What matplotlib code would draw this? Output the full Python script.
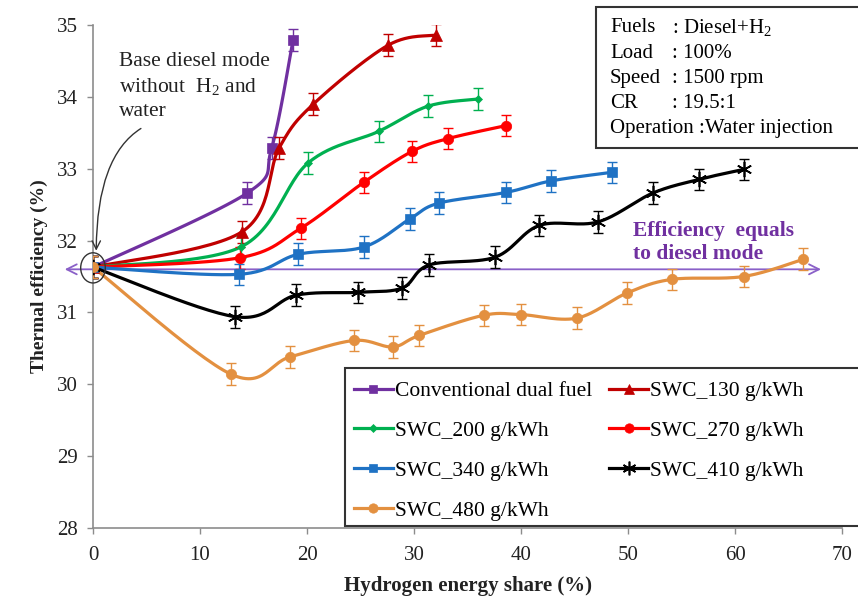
import numpy as np
import matplotlib
matplotlib.use("Agg")
import matplotlib.pyplot as plt
from matplotlib.lines import Line2D
from matplotlib.patches import Rectangle, Ellipse

plt.rcParams['font.family'] = ['Liberation Serif', 'DejaVu Serif']
plt.rcParams['mathtext.fontset'] = 'custom'
plt.rcParams['mathtext.rm'] = 'Liberation Serif'

# ---------------- data ----------------
labels = ["Conventional dual fuel", "SWC_130 g/kWh", "SWC_200 g/kWh", "SWC_270 g/kWh",
          "SWC_340 g/kWh", "SWC_410 g/kWh", "SWC_480 g/kWh"]

x_conv = [0, 14.4, 16.7, 18.7]
y_conv = [31.63, 32.66, 33.29, 34.79]

x_130 = [0, 13.9, 17.4, 20.6, 27.6, 32.1]
y_130 = [31.63, 32.12, 33.29, 33.90, 34.72, 34.86]

x_200 = [0, 13.8, 20.1, 26.7, 31.3, 36.0]
y_200 = [31.63, 31.91, 33.08, 33.52, 33.87, 33.97]

x_270 = [0, 13.7, 19.4, 25.3, 29.8, 33.2, 38.6]
y_270 = [31.63, 31.76, 32.17, 32.81, 33.24, 33.42, 33.60]

x_340 = [0, 13.6, 19.2, 25.3, 29.6, 32.3, 38.6, 42.8, 48.5]
y_340 = [31.63, 31.53, 31.81, 31.91, 32.30, 32.52, 32.67, 32.83, 32.95]

x_410 = [0, 13.3, 19.0, 24.8, 28.9, 31.4, 37.6, 41.7, 47.2, 52.3, 56.6, 60.8]
y_410 = [31.63, 30.94, 31.24, 31.28, 31.34, 31.66, 31.77, 32.21, 32.26, 32.66, 32.85, 32.99]

x_480 = [0, 12.9, 18.4, 24.4, 28.0, 30.5, 36.5, 40.0, 45.2, 49.9, 54.1, 60.8, 66.4]
y_480 = [31.63, 30.14, 30.38, 30.61, 30.52, 30.68, 30.96, 30.97, 30.92, 31.27, 31.46, 31.50, 31.74]

err = 0.15
base_eff = 31.6

xticks = [0, 10, 20, 30, 40, 50, 60, 70]
yticks = [28, 29, 30, 31, 32, 33, 34, 35]

info_keys = ["Fuels", "Load", "Speed", "CR"]
info_vals = [": Diesel+H$_2$", ": 100%", ": 1500 rpm", ": 19.5:1"]
info_last = "Operation :Water injection"

# ---------------- styles ----------------
colors = ['#7030A0', '#C00000', '#00B050', '#FF0000', '#1F72C4', '#000000', '#E39040']
markers = ['s', '^', 'D', 'o', 's', (6, 2, 0), 'o']
msizes = [7, 8, 4.5, 7.5, 7, 11, 7.5]
series = [(x_conv, y_conv), (x_130, y_130), (x_200, y_200), (x_270, y_270),
          (x_340, y_340), (x_410, y_410), (x_480, y_480)]

W, H = 858, 599
fx = lambda px: px / W
fy = lambda py: 1 - py / H

fig = plt.figure(figsize=(W / 100, H / 100), dpi=100)
ax = fig.add_axes([fx(93), fy(528), (842 - 93) / W, (528 - 25) / H])
ax.set_xlim(0, 70)
ax.set_ylim(28, 35)


def smooth(xs, ys, n=30):
    # Catmull-Rom style smoothing in display space (like spreadsheet smoothed lines)
    pts = ax.transData.transform(np.column_stack([xs, ys]))
    m = len(pts)
    out = [pts[0]]
    for i in range(m - 1):
        p0 = pts[i - 1] if i > 0 else pts[i]
        p1 = pts[i]
        p2 = pts[i + 1]
        p3 = pts[i + 2] if i + 2 < m else pts[i + 1]
        c1 = p1 + (p2 - p0) / 6.0
        c2 = p2 - (p3 - p1) / 6.0
        t = np.linspace(0, 1, n)[1:, None]
        seg = ((1 - t) ** 3) * p1 + 3 * ((1 - t) ** 2) * t * c1 + 3 * (1 - t) * t ** 2 * c2 + t ** 3 * p2
        out.extend(seg)
    out = np.array(out)
    d = ax.transData.inverted().transform(out)
    return d[:, 0], d[:, 1]


handles = []
for (xs, ys), c, mk, ms, lab in zip(series, colors, markers, msizes, labels):
    sx, sy = smooth(xs, ys)
    ax.plot(sx, sy, color=c, lw=2.3, zorder=3, solid_capstyle='round')
    ax.errorbar(xs, ys, yerr=err, fmt='none', ecolor=c, elinewidth=1.0, capsize=3.5, capthick=1.0, zorder=3)
    mew = 1.2 if mk == (6, 2, 0) else 0.5
    ax.plot(xs, ys, linestyle='none', marker=mk, ms=ms, color=c, mec=c, mew=mew, zorder=4)
    handles.append(Line2D([], [], color=c, lw=2.3, marker=mk, ms=ms * 0.9, mec=c, mew=mew))

# base efficiency double arrow
ax.annotate('', xy=(68.3, base_eff), xytext=(-2.9, base_eff),
            arrowprops=dict(arrowstyle='<->', color='#8A60C8', lw=1.3, mutation_scale=18),
            annotation_clip=False, zorder=2)
ax.text(50.5, 32.14, "Efficiency  equals", color='#7030A0', fontsize=15.5, fontweight='bold',
        va='center', ha='left')
ax.text(50.5, 31.82, "to diesel mode", color='#7030A0', fontsize=15.5, fontweight='bold',
        va='center', ha='left')

# circle around base point and curved arrow
ax.add_patch(Ellipse((0, 31.62), 2.3, 0.42, fill=False, ec='#333333', lw=1.0, clip_on=False, zorder=5))
ax.annotate('', xy=(0.3, 31.82), xytext=(4.7, 33.58),
            arrowprops=dict(arrowstyle='->', color='#333333', lw=1.0, mutation_scale=15,
                            connectionstyle='angle3,angleA=30,angleB=90'),
            annotation_clip=False, zorder=5)
fig.text(fx(119), fy(62), "Base diesel mode", fontsize=15.5, va='center', ha='left', color='#222222')
fig.text(fx(119), fy(87), "without  H$_2$ and", fontsize=15.5, va='center', ha='left', color='#222222')
fig.text(fx(119), fy(112), "water", fontsize=15.5, va='center', ha='left', color='#222222')

# axes styling
for s in ['top', 'right']:
    ax.spines[s].set_visible(False)
for s in ['left', 'bottom']:
    ax.spines[s].set_color('#8C8C8C')
    ax.spines[s].set_linewidth(1.2)
ax.set_xticks(xticks)
ax.set_yticks(yticks)
ax.tick_params(axis='both', direction='out', length=4, width=1, color='#8C8C8C',
               labelsize=15, labelcolor='#222222')
ax.tick_params(axis='x', pad=9)
ax.tick_params(axis='y', pad=7)
ax.set_xlabel("Hydrogen energy share (%)", fontsize=15, fontweight='bold', color='#222222', labelpad=8)
ax.set_ylabel("Thermal efficiency (%)", fontsize=14, fontweight='bold', color='#222222', labelpad=6)

# info box
fig.patches.append(Rectangle((fx(596), fy(148)), fx(870) - fx(596), fy(7) - fy(148),
                             transform=fig.transFigure, fill=True, fc='white', ec='#333333', lw=1.5, zorder=6))
for i, (k, v) in enumerate(zip(info_keys, info_vals)):
    yy = fy(28 + 25 * i)
    fig.text(fx(610), yy, k, fontsize=15, va='center', ha='left', zorder=7)
    fig.text(fx(672), yy, v, fontsize=15, va='center', ha='left', zorder=7)
fig.text(fx(610), fy(128), info_last, fontsize=15, va='center', ha='left', zorder=7)

# legend box and legend
fig.patches.append(Rectangle((fx(345), fy(526)), fx(870) - fx(345), fy(368) - fy(526),
                             transform=fig.transFigure, fill=True, fc='white', ec='#333333', lw=1.5, zorder=6))
order = [0, 2, 4, 6, 1, 3, 5]
leg = fig.legend([handles[i] for i in order], [labels[i] for i in order], ncol=2,
                 loc='upper left', bbox_to_anchor=(fx(339), fy(366)), frameon=False,
                 fontsize=15.5, handlelength=1.8, handletextpad=0.1, columnspacing=0.8,
                 labelspacing=0.92, borderpad=0.2)
leg.set_zorder(8)

fig.savefig("out.png", dpi=100)
